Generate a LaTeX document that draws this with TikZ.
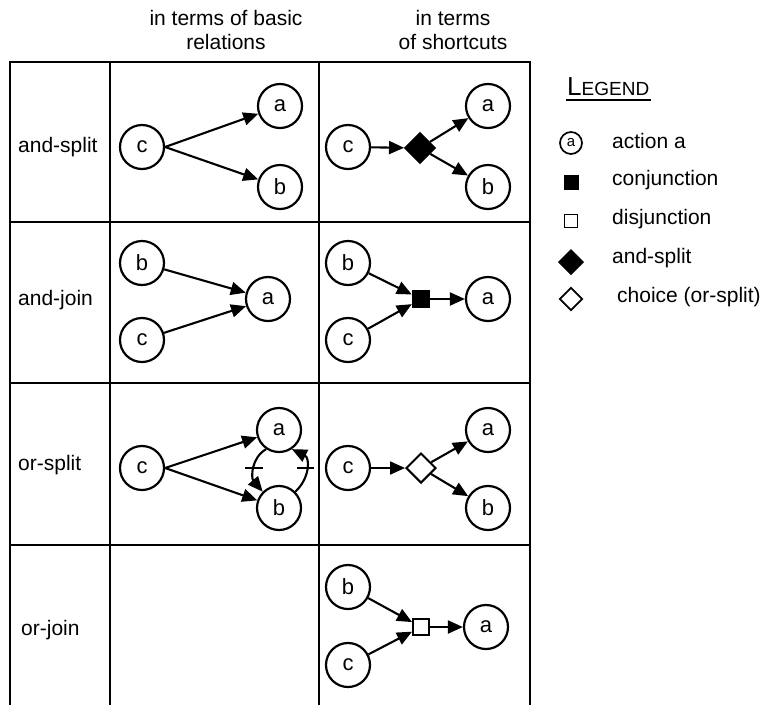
\documentclass[tikz,border=0pt]{standalone}
\usepackage{fontspec}
\setmainfont{Liberation Sans}
\usetikzlibrary{arrows.meta,shapes.geometric}
\tikzset{
  txt/.style={font=\fontsize{21}{24}\selectfont, inner sep=0pt},
  act/.style={circle,draw,line width=2.2pt,minimum size=44pt,inner sep=0pt,font=\fontsize{22}{22}\selectfont},
  arr/.style={line width=2.1pt,-{Triangle[length=15pt,width=13pt]}},
  fdia/.style={diamond,draw,fill=black,line width=1.4pt,minimum width=31pt,minimum height=31pt,inner sep=0pt},
  odia/.style={diamond,draw,fill=white,line width=2pt,minimum width=30pt,minimum height=30pt,inner sep=0pt},
  fsq/.style={rectangle,draw,fill=black,line width=1.4pt,minimum size=17pt,inner sep=0pt},
  osq/.style={rectangle,draw,fill=white,line width=2pt,minimum size=16pt,inner sep=0pt},
  thick border/.style={line width=2.8pt},
  thin border/.style={line width=2pt},
}
\begin{document}
\begin{tikzpicture}[x=1pt,y=-1pt]
\useasboundingbox (0,0) rectangle (769,705);
% table
\draw[thick border] (10,705) -- (10,62) -- (530,62) -- (530,705);
\draw[thin border] (110,62) -- (110,705);
\draw[thin border] (319,62) -- (319,705);
\draw[thin border] (10,222) -- (530,222);
\draw[thin border] (10,383) -- (530,383);
\draw[thin border] (10,545) -- (530,545);
% headers
\node[txt,align=center] (h1) at (226,30) {in terms of basic\\relations};
\node[txt,align=center] (h2) at (453,30) {in terms\\of shortcuts};
% row labels
\node[txt,anchor=west] (r1) at (18,147) {and-split};
\node[txt,anchor=west] (r2) at (18,300) {and-join};
\node[txt,anchor=west] (r3) at (18,465) {or-split};
\node[txt,anchor=west] (r4) at (21,630) {or-join};
% row 1 basic
\node[act] (c1) at (142,147) {c};
\node[act] (a1) at (280,106) {a};
\node[act] (b1) at (280,187) {b};
\draw[arr] (c1.east) -- (a1);
\draw[arr] (c1.east) -- (b1);
% row 1 shortcuts
\node[act] (c1s) at (348,147) {c};
\node[fdia] (d1s) at (420,148) {};
\node[act] (a1s) at (488,106) {a};
\node[act] (b1s) at (488,187) {b};
\draw[arr] (c1s) -- (d1s);
\draw[arr] (d1s) -- (a1s);
\draw[arr] (d1s) -- (b1s);
% row 2 basic
\node[act] (b2) at (142,263) {b};
\node[act] (c2) at (142,340) {c};
\node[act] (a2) at (268,299) {a};
\draw[arr] (b2) -- (a2);
\draw[arr] (c2) -- (a2);
% row 2 shortcuts
\node[act] (b2s) at (348,263) {b};
\node[act] (c2s) at (348,340) {c};
\node[fsq] (q2s) at (421,299) {};
\node[act] (a2s) at (488,299) {a};
\draw[arr] (b2s) -- (q2s);
\draw[arr] (c2s) -- (q2s);
\draw[arr] (q2s) -- (a2s);
% row 3 basic
\node[act] (c3) at (142,468) {c};
\node[act] (a3) at (279,430) {a};
\node[act] (b3) at (279,508) {b};
\draw[arr] (c3.east) -- (a3);
\draw[arr] (c3.east) -- (b3);
\draw[arr] (a3.236) .. controls (251,458) and (251,478) .. (b3.135);
\draw[arr] (b3.45) .. controls (310,478) and (310,458) .. (a3.304);
\draw[line width=1.8pt] (245,468) -- (263,468);
\draw[line width=1.8pt] (297,468) -- (314,468);
% row 3 shortcuts
\node[act] (c3s) at (348,468) {c};
\node[odia] (d3s) at (421,468) {};
\node[act] (a3s) at (488,430) {a};
\node[act] (b3s) at (488,508) {b};
\draw[arr] (c3s) -- (d3s);
\draw[arr] (d3s) -- (a3s);
\draw[arr] (d3s) -- (b3s);
% row 4 shortcuts
\node[act] (b4s) at (348,587) {b};
\node[act] (c4s) at (348,665) {c};
\node[osq] (q4s) at (421,627) {};
\node[act] (a4s) at (486,627) {a};
\draw[arr] (b4s) -- (q4s);
\draw[arr] (c4s) -- (q4s);
\draw[arr] (q4s) -- (a4s);
% legend
\node[inner sep=0pt,anchor=south west] (lg) at (567,96) {{\fontsize{26}{27}\selectfont L}{\fontsize{19}{20}\selectfont EGEND}};
\draw[line width=1.2pt] (566,100) -- (651,100);
\node[circle,draw,line width=1.7pt,minimum size=22pt,inner sep=0pt,font=\fontsize{15}{16}\selectfont] (la) at (571,143) {a};
\node[txt,anchor=west] (lta) at (612,141) {action a};
\node[rectangle,fill=black,draw,line width=1pt,minimum size=14pt,inner sep=0pt] (lc) at (571,182) {};
\node[txt,anchor=west] (ltc) at (612,180) {conjunction};
\node[rectangle,draw,line width=1.8pt,minimum size=13pt,inner sep=0pt] (ld) at (571,221) {};
\node[txt,anchor=west] (ltd) at (612,219) {disjunction};
\node[diamond,fill=black,draw,line width=1pt,minimum width=25pt,minimum height=25pt,inner sep=0pt] (ls) at (571,262) {};
\node[txt,anchor=west] (lts) at (612,258) {and-split};
\node[diamond,draw,line width=1.8pt,minimum width=23pt,minimum height=23pt,inner sep=0pt] (lo) at (571,299) {};
\node[txt,anchor=west] (lto) at (617,297) {choice (or-split)};
\end{tikzpicture}
\end{document}
